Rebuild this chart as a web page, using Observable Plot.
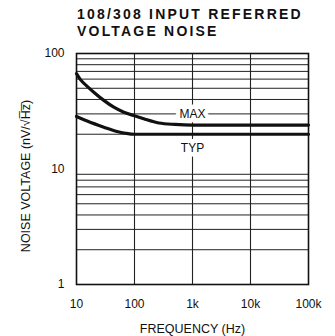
<!DOCTYPE html>
<html><head><meta charset="utf-8">
<script src="https://cdn.jsdelivr.net/npm/d3@7"></script>
<script src="https://cdn.jsdelivr.net/npm/@observablehq/plot@0.6"></script>
<style>
body{margin:0;background:#fff;font-family:"Liberation Sans",Arial,sans-serif;}
#title{height:44px;position:relative;width:335px;}
#title div{position:absolute;left:77px;font-size:14px;line-height:16px;font-weight:bold;letter-spacing:2.2px;color:#111;white-space:nowrap;}
</style></head><body>
<div id="title"><div style="top:6px">108/308 INPUT REFERRED</div><div style="top:23px">VOLTAGE NOISE</div></div>
<div id="chart"></div>
<script>
// Data
const maxFreq  = [10, 11.7, 15.3, 21.3, 29.6, 44, 65.5, 97, 144, 263, 500, 1000, 10000, 100000];
const maxNoise = [67, 59.4, 52, 44.9, 39.3, 34.3, 31, 29, 27.2, 25, 24.3, 24, 24, 24];
const typFreq  = [10, 15.3, 29.6, 50, 70, 100, 1000, 10000, 100000];
const typNoise = [28.5, 26, 23, 21.1, 20.4, 20, 20, 20, 20];
const xTicks = [10, 100, 1000, 10000, 100000];
const xTickLabels = ["10", "100", "1k", "10k", "100k"];
const yTicks = [1, 10, 100];
const yTickLabels = ["1", "10", "100"];
const yGrid = [2,3,4,5,6,7,8,9,20,30,40,50,60,70,80,90];
const xGrid = [100, 1000, 10000];
const seriesLabels = ["MAX", "TYP"];
const labelFreq = [1000, 1000];
const labelNoise = [30, 15.3];

const maxData = maxFreq.map((f, i) => ({f, v: maxNoise[i]}));
const typData = typFreq.map((f, i) => ({f, v: typNoise[i]}));
const labels = seriesLabels.map((t, i) => ({t, f: labelFreq[i], v: labelNoise[i]}));

const chart = Plot.plot({
  width: 335, height: 292,
  marginTop: 9, marginBottom: 52, marginLeft: 76, marginRight: 27,
  style: {fontFamily: "Liberation Sans, Arial, sans-serif", fontSize: "12px", background: "white", color: "#111"},
  x: {type: "log", domain: [10, 100000]},
  y: {type: "log", domain: [1, 100]},
  marks: [
    Plot.ruleY(yGrid, {strokeWidth: 1, stroke: "#222"}),
    Plot.ruleX(xGrid, {strokeWidth: 1.1, stroke: "#222"}),
    Plot.text(labels, {x: "f", y: "v", text: "t", fontSize: 12, stroke: "white", strokeWidth: 9, fill: "#111", ariaLabel: "serieslabels"}),
    Plot.line(maxData, {x: "f", y: "v", strokeWidth: 3.2, curve: "monotone-x", stroke: "#111"}),
    Plot.line(typData, {x: "f", y: "v", strokeWidth: 3.2, curve: "monotone-x", stroke: "#111"}),
    Plot.frame({strokeWidth: 1.6, stroke: "#111"}),
    Plot.axisX({ticks: xTicks, tickFormat: d => xTickLabels[xTicks.indexOf(d)], tickSize: 0, tickPadding: 15, label: null}),
    Plot.axisY({ticks: yTicks, tickFormat: d => yTickLabels[yTicks.indexOf(d)], tickSize: 0, tickPadding: 12, label: null}),
    Plot.text(["FREQUENCY (Hz)"], {frameAnchor: "bottom", dy: 48, text: d => d, fontSize: 12.5, fill: "#111", ariaLabel: "xtitle"}),
    Plot.text(["NOISE VOLTAGE (nV/\u221AH\u0305z\u0305)"], {frameAnchor: "left", textAnchor: "middle", dx: -51, dy: 7, rotate: -90, text: d => d, fontSize: 12.5, fill: "#111", ariaLabel: "ytitle"})
  ]
});
d3.select(chart).selectAll('g[aria-label="xtitle"] text, g[aria-label="ytitle"] text').attr("letter-spacing", "1px");
d3.select(chart).selectAll('g[aria-label="serieslabels"] text').attr("letter-spacing", "1.5px");
document.getElementById("chart").appendChild(chart);
</script>
</body></html>
